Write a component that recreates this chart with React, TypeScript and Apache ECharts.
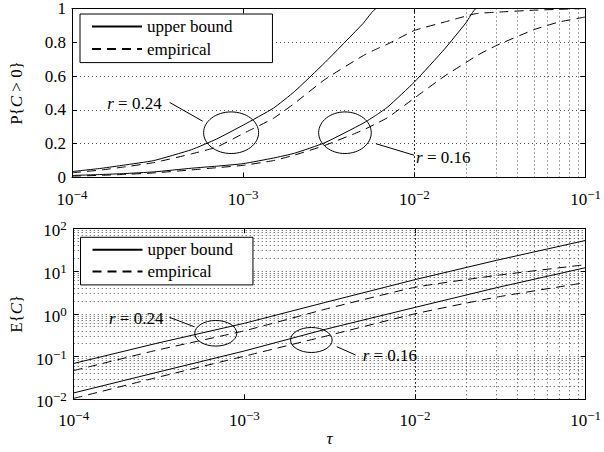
import React, { useEffect, useRef } from "react";
import * as echarts from "echarts";

const FONT = "Liberation Serif";

// ---- top panel: P{C > 0} ----
const tauTop = [1e-4, 1.5e-4, 2e-4, 3e-4, 5e-4, 7e-4, 1e-3, 1.5e-3, 2e-3, 3e-3, 5e-3, 6e-3, 7e-3, 1e-2, 1.5e-2, 2e-2, 2.3e-2, 3e-2, 5e-2, 7e-2, 1e-1];
const pUpper024 = [0.035, 0.055, 0.073, 0.1, 0.165, 0.228, 0.31, 0.41, 0.51, 0.68, 0.91, 1, 1, 1, 1, 1, 1, 1, 1, 1, 1];
const pEmp024 = [0.028, 0.045, 0.062, 0.088, 0.14, 0.18, 0.26, 0.35, 0.44, 0.58, 0.72, 0.76, 0.79, 0.87, 0.92, 0.955, 0.97, 0.978, 0.99, 0.995, 1.0];
const pUpper016 = [0.012, 0.018, 0.023, 0.033, 0.055, 0.067, 0.082, 0.115, 0.144, 0.206, 0.32, 0.37, 0.418, 0.565, 0.76, 0.915, 1, 1, 1, 1, 1];
const pEmp016 = [0.008, 0.013, 0.018, 0.027, 0.045, 0.058, 0.072, 0.1, 0.133, 0.19, 0.28, 0.32, 0.355, 0.47, 0.6, 0.68, 0.72, 0.78, 0.875, 0.92, 0.95];

// ---- bottom panel: E{C} ----
const tauBot = [1e-4, 3e-4, 1e-3, 3e-3, 1e-2, 3e-2, 1e-1];
const eUpper024 = [0.069, 0.2, 0.6, 1.86, 6.3, 17.8, 52];
const eEmp024 = [0.047, 0.138, 0.4, 1.29, 4.17, 7.9, 14.1];
const eUpper016 = [0.0141, 0.0417, 0.135, 0.436, 1.41, 4.07, 12.0];
const eEmp016 = [0.0105, 0.0316, 0.102, 0.3, 1.0, 2.45, 5.37];

// ---- axes / grid ticks ----
const tauMin = 1e-4;
const tauMax = 1e-1;
const eMin = 1e-2;
const eMax = 1e2;
const mantissas = [1, 2, 3, 4, 5, 6, 7, 8, 9];
const tauDecades = [1e-4, 1e-3, 1e-2];
const eDecades = [1e-2, 1e-1, 1, 10];

const legendNames = ["upper bound", "empirical"];

const annotations = [
  { grid: 0, label: "r = 0.24", center: [8.5e-4, 0.265], rx: 27.5, ry: 20.8, from: [5.8e-4, 0.333], to: [3.72e-4, 0.444], align: "right", dx: -8, dy: 1.5 },
  { grid: 0, label: "r = 0.16", center: [3.93e-3, 0.265], rx: 26.3, ry: 20.8, from: [5.96e-3, 0.2], to: [9.95e-3, 0.132], align: "left", dx: 2, dy: 2 },
  { grid: 1, label: "r = 0.24", center: [6.8e-4, 0.35], rx: 21, ry: 12.8, from: [5.08e-4, 0.499], to: [3.64e-4, 0.828], align: "right", dx: -6, dy: 1 },
  { grid: 1, label: "r = 0.16", center: [2.47e-3, 0.244], rx: 20.8, ry: 12.5, from: [3.48e-3, 0.17], to: [4.49e-3, 0.1086], align: "left", dx: 7, dy: 0 },
];

function minorValues(decades: number[], min: number) {
  const out: number[] = [];
  decades.forEach((d) => mantissas.forEach((m) => {
    const v = m * d;
    if (v > min * 1.0001) out.push(v);
  }));
  return out;
}

const supRich = {
  b: { fontFamily: FONT, fontSize: 17, color: "#000", padding: [5, 0, 0, 0] },
  s: { fontFamily: FONT, fontSize: 13, color: "#000", padding: [0, 0, 5, 0] },
};

function powLabel(v: number) {
  const e = Math.round(Math.log10(v));
  const es = e < 0 ? "\u2212" + Math.abs(e) : String(e);
  return "{b|10}{s|" + es + "}";
}

const dotted = { color: "#222", width: 0.8, type: [1, 3] as any };
const axisLineStyle = { show: true, onZero: false, lineStyle: { color: "#000", width: 1 } };
const tickInside = { show: true, inside: true, length: 5, lineStyle: { color: "#000", width: 1 } };

function vLines(vals: number[]) {
  return vals.map((v) => ({ xAxis: v }));
}
function hLines(vals: number[]) {
  return vals.map((v) => ({ yAxis: v }));
}

const fontCss =
  "#chart-box text, #chart-box tspan { font-family: 'Liberation Serif', serif !important; }";

function buildOption() {
  const xGridVals = minorValues(tauDecades, tauMin);
  const yGridValsE = minorValues(eDecades, eMin);

  const solid = { color: "#000", width: 1, type: "solid" as any };
  const dashed = { color: "#000", width: 1, type: [9, 6] as any };
  const mk = (tau: number[], vals: number[]) => tau.map((t, i) => [t, vals[i]]);

  const baseSeries = (name: string, data: any, style: any, g: number, extra: any = {}) => ({
    type: "line",
    name,
    xAxisIndex: g === 0 ? 0 : 2,
    yAxisIndex: g === 0 ? 0 : 2,
    data,
    showSymbol: false,
    symbol: "none",
    smooth: 0.15,
    lineStyle: style,
    itemStyle: { color: "#000" },
    z: 3,
    ...extra,
  });

  const markLineBase = {
    silent: true,
    symbol: ["none", "none"],
    label: { show: false },
    lineStyle: dotted,
    emphasis: { disabled: true },
  };

  const legendBase = {
    orient: "vertical", data: legendNames, selectedMode: false,
    borderColor: "#000", borderWidth: 1, borderRadius: 0, backgroundColor: "#fff",
    itemWidth: 50, itemHeight: 17,
    itemStyle: { opacity: 0 },
    textStyle: { fontFamily: FONT, fontSize: 17, color: "#000" }, z: 10,
  };

  const nameRich = { i: { fontFamily: FONT, fontSize: 17, fontStyle: "italic", color: "#000" } };

  return {
    animation: false,
    textStyle: { fontFamily: FONT },
    grid: [
      { left: 72, top: 6, width: 515, height: 171.5, show: false },
      { left: 72, top: 228.3, width: 515, height: 171, show: false },
    ],
    xAxis: [
      {
        gridIndex: 0, type: "log", logBase: 10, min: tauMin, max: tauMax, position: "bottom",
        axisLine: axisLineStyle, axisTick: tickInside, splitLine: { show: false },
        axisLabel: { formatter: powLabel, rich: supRich, margin: 8, fontFamily: FONT, fontSize: 17, color: "#000" },
      },
      {
        gridIndex: 0, type: "log", logBase: 10, min: tauMin, max: tauMax, position: "top",
        axisLine: axisLineStyle, axisTick: tickInside, splitLine: { show: false }, axisLabel: { show: false },
      },
      {
        gridIndex: 1, type: "log", logBase: 10, min: tauMin, max: tauMax, position: "bottom",
        axisLine: axisLineStyle, axisTick: tickInside, splitLine: { show: false },
        axisLabel: { formatter: powLabel, rich: supRich, margin: 8, fontFamily: FONT, fontSize: 17, color: "#000" },
        name: "\u03c4", nameLocation: "middle", nameGap: 22,
        nameTextStyle: { fontFamily: FONT, fontSize: 17, fontStyle: "italic", color: "#000" },
      },
      {
        gridIndex: 1, type: "log", logBase: 10, min: tauMin, max: tauMax, position: "top",
        axisLine: axisLineStyle, axisTick: tickInside, splitLine: { show: false }, axisLabel: { show: false },
      },
    ],
    yAxis: [
      {
        gridIndex: 0, type: "value", min: 0, max: 1, interval: 0.2, position: "left",
        axisLine: axisLineStyle, axisTick: tickInside,
        splitLine: { show: true, lineStyle: dotted },
        axisLabel: { fontFamily: FONT, fontSize: 17, color: "#000", margin: 6, padding: [4, 0, 0, 0] },
        name: "P{{i|C} > 0}", nameLocation: "middle", nameGap: 47,
        nameTextStyle: { fontFamily: FONT, fontSize: 17, color: "#000", rich: nameRich },
      },
      {
        gridIndex: 0, type: "value", min: 0, max: 1, interval: 0.2, position: "right",
        axisLine: axisLineStyle, axisTick: tickInside, splitLine: { show: false }, axisLabel: { show: false },
      },
      {
        gridIndex: 1, type: "log", logBase: 10, min: eMin, max: eMax, position: "left",
        axisLine: axisLineStyle, axisTick: tickInside, splitLine: { show: false },
        axisLabel: { formatter: powLabel, rich: supRich, margin: 7, fontFamily: FONT, fontSize: 17, color: "#000" },
        name: "E{{i|C}}", nameLocation: "middle", nameGap: 47,
        nameTextStyle: { fontFamily: FONT, fontSize: 17, color: "#000", rich: nameRich },
      },
      {
        gridIndex: 1, type: "log", logBase: 10, min: eMin, max: eMax, position: "right",
        axisLine: axisLineStyle, axisTick: tickInside, splitLine: { show: false }, axisLabel: { show: false },
      },
    ],
    legend: [
      { ...legendBase, left: 80, top: 14, padding: [4, 40, 5, 11], itemGap: 5.6 },
      { ...legendBase, left: 80.5, top: 237.3, padding: [4, 20, 5, 11], itemGap: 4.6 },
    ],
    series: [
      baseSeries("upper bound", mk(tauTop, pUpper024), solid, 0, {
        markLine: { ...markLineBase, data: vLines(xGridVals) },
      }),
      baseSeries("empirical", mk(tauTop, pEmp024), dashed, 0),
      baseSeries("upper bound", mk(tauTop, pUpper016), solid, 0),
      baseSeries("empirical", mk(tauTop, pEmp016), dashed, 0),
      baseSeries("upper bound", mk(tauBot, eUpper024), solid, 1, {
        smooth: false,
        markLine: { ...markLineBase, data: [...vLines(xGridVals), ...hLines(yGridValsE)] },
      }),
      baseSeries("empirical", mk(tauBot, eEmp024), dashed, 1),
      baseSeries("upper bound", mk(tauBot, eUpper016), solid, 1, { smooth: false }),
      baseSeries("empirical", mk(tauBot, eEmp016), dashed, 1),
    ],
  } as any;
}

function buildGraphics(chart: any) {
  const graphics: any[] = [];
  annotations.forEach((a) => {
    const finder = { xAxisIndex: a.grid === 0 ? 0 : 2, yAxisIndex: a.grid === 0 ? 0 : 2 };
    const c = chart.convertToPixel(finder, a.center) as number[];
    const f = chart.convertToPixel(finder, a.from) as number[];
    const t = chart.convertToPixel(finder, a.to) as number[];
    graphics.push({
      type: "ellipse", silent: true, z: 20,
      shape: { cx: c[0], cy: c[1], rx: a.rx, ry: a.ry },
      style: { fill: "none", stroke: "#000", lineWidth: 1 },
    });
    graphics.push({
      type: "line", silent: true, z: 20,
      shape: { x1: f[0], y1: f[1], x2: t[0], y2: t[1] },
      style: { stroke: "#000", lineWidth: 1 },
    });
    const parts = a.label.split(" ");
    graphics.push({
      type: "text", silent: true, z: 20,
      x: t[0] + a.dx, y: t[1] + a.dy,
      style: {
        text: "{i|" + parts[0] + "} " + parts.slice(1).join(" "),
        fontFamily: FONT, fontSize: 17, fill: "#000",
        align: a.align, verticalAlign: "middle",
        rich: {
          i: { fontFamily: FONT, fontSize: 17, fontStyle: "italic", fill: "#000" },
        },
      },
    });
  });
  return graphics;
}

export default function App() {
  const ref = useRef<HTMLDivElement>(null);
  useEffect(() => {
    if (!ref.current) return;
    const option = buildOption();
    // measuring pass: resolve annotation anchors through the axes' scales
    const probe = echarts.init(ref.current, null, { renderer: "svg" });
    probe.setOption(option);
    const graphics = buildGraphics(probe);
    probe.dispose();
    // final single render with everything in one option
    const chart = echarts.init(ref.current, null, { renderer: "svg" });
    chart.setOption({ ...option, graphic: graphics });
    return () => chart.dispose();
  }, []);

  return (
    <>
      <style>{fontCss}</style>
      <div
        id="chart-box"
        ref={ref}
        style={{ position: "fixed", left: 0, top: 0, width: 604, height: 452, background: "#fff" }}
      />
    </>
  );
}
